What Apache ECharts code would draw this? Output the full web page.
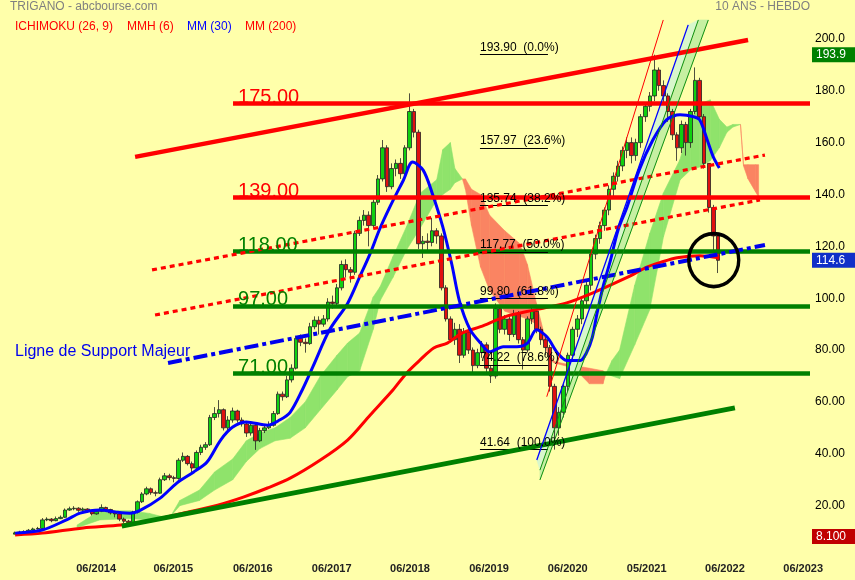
<!DOCTYPE html>
<html><head><meta charset="utf-8">
<script src="https://cdn.jsdelivr.net/npm/echarts@6/dist/echarts.min.js"></script>
<style>html,body{margin:0;padding:0;background:#ffffaa}#c{width:855px;height:580px}</style>
</head><body><div id="c"></div>
<script>
// ---------- DATA (x in weeks from first candle, y in EUR) ----------
const candleStepWeeks = 3;
const candleClose = [9.5,9.8,10,10.5,11,11.2,14.5,14.8,14.2,15,
 15.5,18.3,18.8,19,18.2,18.7,18,16.8,17.8,19.3,
 18.5,17.2,16.8,14.8,14,13.5,17.5,21.5,24.5,26.5,
 25,24.8,30,31.5,30.8,30.5,37.5,39,36.2,34.5,
 40.5,42.5,43.5,54,55.5,57,50,53,56.5,53,
 51.5,48,51,45,49,50,51,55.5,63,62,
 68.5,73,84.5,83,82.5,89,91.5,90,92,98.5,
 98,104,113,111,110,125,130,132,128,137,
 146,158,143,150,152,148,158,172,164,121,
 122,121.5,126,124,104,92,84,88,78,87,
 80,74,79,82,73,70,96,88,92,86,
 94,84,80,92,95,88,84,81,66,50,
 56,66,78,88,92,99,105,117,123,128,
 134,142,147,151,157,160,155,160,170,174,
 178,188,182,178,172,163,158,167,160,172,
 184,170,152,135,124,114.6];
const candleHigh = [10,10.3,10.5,11,11.5,11.8,15.2,15.5,15.2,15.8,
 16.2,18.9,19.6,19.8,19.4,19.3,19,18.3,18.4,20.5,
 19.6,18.8,17.8,17,15.4,14.5,18,22,25.2,27.3,
 27,25.8,30.8,32.6,32.3,31.5,38.3,40.5,39.5,37,
 41.3,43.5,44.5,55,58,60.7,57.5,54.5,57.8,57,
 54,52.5,52,51.5,50,51.5,52.5,56.5,64,64,
 70,74.5,85.5,86,84.5,90.5,93,93,93.5,100,
 101,105.5,114.5,115,112,126,131.5,134,133.5,138,
 147.5,161,159,152,153.5,154,159,179,173,165,
 124,125,131,127,125,105,93,90.5,90,88.5,
 88,81,80.5,83.5,83,74,98,97,93.5,93,
 95.5,95,85,93,96.5,96,89,85,82,67,
 58,67.5,79,89,93.5,100,106.5,118,124.5,129.5,
 135,143.5,148.5,153,158.5,162,162,161.5,171,175.5,
 179.5,193.9,189,184,179,173,164,168.5,168,173,
 189,185,171,152,136,125];
const candleLow = [9,9.3,9.6,10,10.5,10.8,11,14,13.6,14,
 14.8,15.3,18,18.2,17.6,17.8,17.3,16.2,16.5,17.5,
 17.8,16.6,15.5,14,13.2,12.8,13.2,17,21,24,
 24.2,23.6,24.5,29.5,29.8,29,30,36.8,35.5,32,
 34,39.5,41.5,43,53,54,49,49,52,52,
 50.5,46.5,47,41.5,44.5,48,49.5,50.5,55,60.5,
 61.5,67.5,72.5,81.5,79,82,88,86,89,91,
 96,97,103,108,106,109,124,128,120,127,
 136,145,141,142,147,146,147,157,162,119,
 115.5,118,120,121,103,91,83,82,75,77,
 78.5,71,73,77,71.5,67.3,69,86.5,86,83.5,
 85,82.5,72.5,79,90,86.5,82,78,64,41.6,
 47,54,64,76,85,90,97,103,115,121,
 126,132,139,145,149,154,152,153,158,168,
 172,176,180,175,168,161,153,156,155,158,
 171,168,150,133,118,109.7];

const mm30 = [[0,9.4],[18,10.6],[34,14.5],[43,17.1],[56,18.3],[67,17.5],[76,17.1],[83,18.3],[96,22.9],
 [107,28.7],[118,32.9],[127,36.8],[136,45.3],[144,50.3],[153,52.3],[167,51],[175,53],[182,56],
 [190,64.6],[197,73.5],[208,87.7],[220,98],[228,108.2],[235,117.3],[241,126.3],[248,135.2],
 [257,145.6],[263,152.5],[270,149.4],[276,140.5],[283,127.5],[289,113],[294,99],[301,88],
 [308,82.7],[314,79.3],[323,81.3],[332,81.3],[339,82.7],[345,87.8],[352,85],[359,78.8],[365,76],
 [374,76],[378,78.8],[382,85],[385,94],[389,104.3],[394,114.7],[399,126.3],[405,135.3],
 [413,149.5],[422,161],[431,168.8],[440,170.7],[449,170],[453,168.8],[458,161],[462,154.5],[466,150.2]];

const mm200 = [[0,8.7],[18,9.4],[45,11.4],[70,12.5],[89,14.1],[111,17.1],[134,20.2],[151,23.3],
 [167,26.8],[182,30.6],[202,37.6],[220,45.3],[235,55],[250,64.6],[259,71.1],[268,76.2],[277,80.8],
 [286,82.7],[296,86.6],[308,89],[325,93],[345,95.6],[365,98.2],[382,102],[405,108],[418,112],
 [427,113.8],[438,115.6],[453,116.4],[466,115.6]];

const cloudWeeks = [41,56,76,89,99,103,109,122,132,144,153,162,172,182,192,202,213,220,228,237,241.5,
 250,259,268,279,283,288,291,296,298,302,308,314,324,334,339,345,351,354,357,370,380,389,391,395,
 400,410,420,429,440,447,453,460,466,471,475,480,482,485,490,492];
const spanA = [12.5,18,18,17,15.5,16,22,26,33,38,45,48,50,54,60,70,78,82.7,86.6,100.5,104.4,
 116,127.6,140.5,145.7,157.3,160,150,146,142,128,112,103,95,93,92,90,81,76,75,73,67,67,71,76,
 80,105,125,140.6,153.5,168.8,175,176.5,169,166,167,167,151,146,141,139];
const spanB = [11.5,14.5,15,14.5,15,16,20,22,26,30,37,42,45,46,50,57,64.6,69.7,72,88,99,
 108,118.6,127,138,140,142,144.5,146,146,142,140,132,126,121,113,98,84,78,75.5,74,73,72,71,70,
 69,82,95.6,123.6,145.6,149.5,150.6,153,158,164,166,167,151.5,151.5,151.5,151.5];

const xTickWeeks = [53.6,104.7,157.3,209.5,261.3,313.6,365.7,417.9,469.7,521.5];
const xTickLabels = ['06/2014','06/2015','06/2016','06/2017','06/2018','06/2019','06/2020','05/2021','06/2022','06/2023'];

const levelValues = [175, 139, 118, 97, 71];
const levelStartWeek = 144.2;
const fibValues = [193.90, 157.97, 135.74, 117.77, 99.80, 74.22, 41.64];
const fibRatios = ['0.0', '23.6', '38.2', '50.0', '61.8', '78.6', '100.0'];
const fibWeeks = [307.6, 352.6];

const trendUpperRed = [[79.4,154.5],[485,199.6]];
const trendLowerGreen = [[70.6,12.1],[476.3,57.7]];
const trendDotUpper = [[90.6,110.9],[496.2,155.2]];
const trendDotLower = [[92.6,93.5],[492.9,137.9]];
const supportLine = [[101.2,75.0],[496.2,120.5]];
const channelRed = [[351.8,62.0],[428.9,207.3]];
const channelBlue = [[345.2,37.6],[445.4,205.4]];
const channelGreenA = [[347.3,33.7],[452.1,207.3]];
const channelGreenB = [[347.3,29.9],[458.7,207.3]];
const circleCenter = [462.3, 114.7];
const priceTags = [193.9, 114.6, 8.1];
const priceTagTexts = ['193.9', '114.6', '8.100'];

// ---------- STYLES ----------
const FONT = 'Liberation Sans, Arial, sans-serif';
const RED = '#ff0000', DGREEN = '#008000', BLUE = '#0000ff';
const levelColors = [RED, RED, DGREEN, DGREEN, DGREEN];
const tagColors = ['#008000', '#1030c8', '#c00000'];
const CLOUD_UP = '#8fe36b', CLOUD_DN = '#fa8462';

const candles = candleClose.map((c, i) => [i * candleStepWeeks, i ? candleClose[i - 1] : candleLow[0], c, candleLow[i], candleHigh[i]]);

function seg(p, style, label) {
  const a = {coord: p[0], lineStyle: style};
  if (label) a.label = label;
  return [a, {coord: p[1]}];
}

const markData = [];
levelValues.forEach((v, i) => {
  markData.push(seg([[levelStartWeek, v], [526, v]], {color: levelColors[i], width: 4.5, type: 'solid'},
    {show: true, position: 'insideStartTop', distance: [5, -4], formatter: v.toFixed(2),
     color: levelColors[i], fontSize: 20, fontFamily: FONT}));
});
fibValues.forEach((v, i) => {
  markData.push(seg([[fibWeeks[0], v], [fibWeeks[1], v]], {color: '#000', width: 1, type: 'solid'},
    {show: true, position: 'insideStartTop', distance: [0, 1], formatter: v.toFixed(2) + '  (' + fibRatios[i] + '%)',
     color: '#000', fontSize: 12, fontFamily: FONT}));
});
markData.push(seg(trendUpperRed, {color: RED, width: 4.5, type: 'solid'}));
markData.push(seg(trendLowerGreen, {color: DGREEN, width: 5, type: 'solid'}));
markData.push(seg(trendDotUpper, {color: RED, width: 3.2, type: [5, 4]}));
markData.push(seg(trendDotLower, {color: RED, width: 3.2, type: [5, 4]}));
markData.push(seg(supportLine, {color: '#0000ee', width: 4, type: [14, 4, 4, 4]}));
markData.push(seg(channelRed, {color: RED, width: 1, type: 'solid'}));
markData.push(seg(channelBlue, {color: BLUE, width: 1.3, type: 'solid'}));
markData.push(seg(channelGreenA, {color: '#109010', width: 1, type: 'solid'}));
markData.push(seg(channelGreenB, {color: '#109010', width: 1, type: 'solid'}));
priceTags.forEach((v, i) => {
  markData.push({yAxis: v, lineStyle: {color: 'rgba(0,0,0,0)', width: 0},
    label: {show: true, position: 'end', distance: 2, formatter: priceTagTexts[i], color: '#fff',
      backgroundColor: tagColors[i], padding: [2, 10, 1, 4], fontSize: 12, fontFamily: FONT}});
});

function poly(api, pts, col) {
  return {type: 'polygon', shape: {points: pts.map(p => api.coord(p))}, style: {fill: col, stroke: col, lineWidth: 0.6}};
}

const chart = echarts.init(document.getElementById('c'), null, {renderer: 'canvas'});
chart.setOption({
  animation: false,
  backgroundColor: '#ffffaa',
  textStyle: {fontFamily: FONT},
  title: [
    {text: 'TRIGANO - abcbourse.com', left: 10, top: 1, padding: 0, textStyle: {color: '#808080', fontSize: 12, fontWeight: 'normal', fontFamily: FONT}},
    {text: '10 ANS - HEBDO', right: 45, top: 1, padding: 0, textStyle: {color: '#808080', fontSize: 12, fontWeight: 'normal', fontFamily: FONT}},
    {text: 'ICHIMOKU (26, 9)', left: 15, top: 21, padding: 0, textStyle: {color: RED, fontSize: 12, fontWeight: 'normal', fontFamily: FONT}},
    {text: 'MMH (6)', left: 127, top: 21, padding: 0, textStyle: {color: RED, fontSize: 12, fontWeight: 'normal', fontFamily: FONT}},
    {text: 'MM (30)', left: 187, top: 21, padding: 0, textStyle: {color: BLUE, fontSize: 12, fontWeight: 'normal', fontFamily: FONT}},
    {text: 'MM (200)', left: 245, top: 21, padding: 0, textStyle: {color: RED, fontSize: 12, fontWeight: 'normal', fontFamily: FONT}},
    {text: 'Ligne de Support Majeur', left: 15, top: 344, padding: 0, textStyle: {color: '#0000ee', fontSize: 16, fontWeight: 'normal', fontFamily: FONT}}
  ],
  grid: {left: 0, right: 45, top: 0, bottom: 22.5, containLabel: false},
  xAxis: {
    type: 'value', min: -10, max: 526,
    axisLine: {show: false}, axisTick: {show: false}, splitLine: {show: false},
    axisLabel: {
      customValues: xTickWeeks, margin: 6, fontSize: 11, fontWeight: 'bold', color: '#222', fontFamily: FONT,
      formatter: v => { const k = xTickWeeks.findIndex(w => Math.abs(w - v) < 0.01); return k >= 0 ? xTickLabels[k] : ''; }
    }
  },
  yAxis: {
    type: 'value', position: 'right', min: 0, max: 215, interval: 20,
    axisLine: {show: false}, axisTick: {show: false}, splitLine: {show: false},
    axisLabel: {margin: 5, fontSize: 12, color: '#000', fontFamily: FONT,
      formatter: v => (v <= 0 || v > 200) ? '' : (v >= 100 ? v.toFixed(1) : v.toFixed(2))}
  },
  series: [
    {
      type: 'custom', name: 'ichimoku', z: 1, silent: true,
      data: cloudWeeks.map((w, i) => [w, spanA[i], spanB[i]]),
      encode: {x: 0, y: [1, 2]},
      renderItem: (params, api) => {
        const i = params.dataIndex;
        if (i >= cloudWeeks.length - 1) return null;
        const w0 = cloudWeeks[i], w1 = cloudWeeks[i + 1];
        const a0 = spanA[i], a1 = spanA[i + 1], b0 = spanB[i], b1 = spanB[i + 1];
        const d0 = a0 - b0, d1 = a1 - b1;
        const col = d => d >= 0 ? CLOUD_UP : CLOUD_DN;
        if (d0 * d1 < 0) {
          const t = d0 / (d0 - d1);
          const wc = w0 + t * (w1 - w0), vc = a0 + t * (a1 - a0);
          return {type: 'group', children: [
            poly(api, [[w0, a0], [wc, vc], [w0, b0]], col(d0)),
            poly(api, [[wc, vc], [w1, a1], [w1, b1]], col(d1))
          ]};
        }
        return poly(api, [[w0, a0], [w1, a1], [w1, b1], [w0, b0]], col(d0 + d1));
      }
    },
    {
      type: 'custom', name: 'channel', z: 1, silent: true,
      data: [[channelBlue[0][0], channelBlue[0][1]]],
      renderItem: (params, api) => ({type: 'group', children: [
        poly(api, [channelBlue[0], channelBlue[1], channelGreenA[1], channelGreenA[0]], '#d8f7cc'),
        poly(api, [channelGreenA[0], channelGreenA[1], channelGreenB[1], channelGreenB[0]], '#c6f0a2')
      ]})
    },
    {
      type: 'candlestick', name: 'TRIGANO', z: 2, silent: true, barWidth: 4,
      data: candles, encode: {x: 0, y: [1, 2, 3, 4]},
      itemStyle: {color: '#10d010', color0: '#e01010', borderColor: '#222', borderColor0: '#222', borderWidth: 0.8}
    },
    {type: 'line', name: 'MM (200)', z: 3, silent: true, data: mm200, showSymbol: false, smooth: 0.3,
     lineStyle: {color: RED, width: 3}},
    {type: 'line', name: 'MM (30)', z: 3, silent: true, data: mm30, showSymbol: false, smooth: 0.3,
     lineStyle: {color: BLUE, width: 3}},
    {type: 'line', name: 'annotations', z: 4, silent: true, data: [],
     markLine: {silent: true, symbol: ['none', 'none'], animation: false, data: markData}},
    {type: 'scatter', name: 'circle', z: 5, silent: true, data: [circleCenter], symbol: 'circle', symbolSize: [50, 53],
     itemStyle: {color: 'rgba(0,0,0,0)', borderColor: '#000', borderWidth: 3.5, opacity: 1}}
  ]
});
</script></body></html>
